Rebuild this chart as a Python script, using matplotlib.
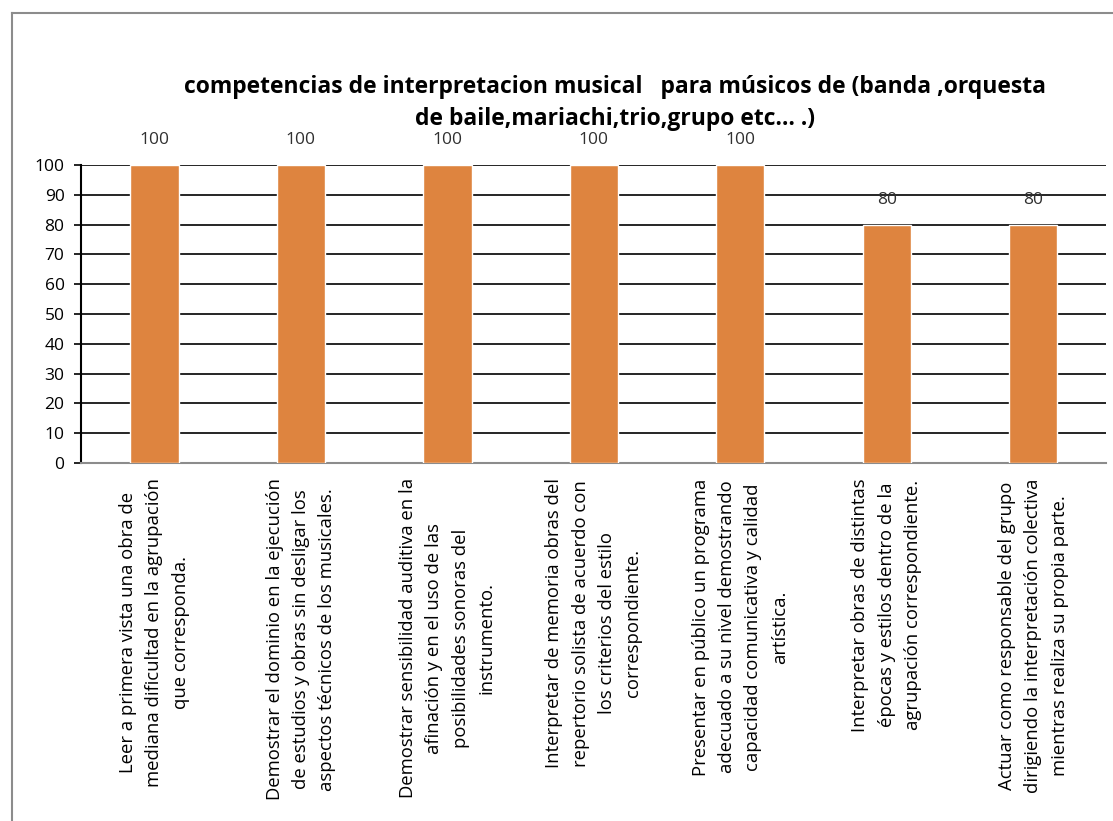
import matplotlib.pyplot as plt
from matplotlib.lines import Line2D

categorias = [
    "Leer a primera vista una obra de\nmediana dificultad en la agrupación\nque corresponda.",
    "Demostrar el dominio en la ejecución\nde estudios y obras sin desligar los\naspectos técnicos de los musicales.",
    "Demostrar sensibilidad auditiva en la\nafinación y en el uso de las\nposibilidades sonoras del\ninstrumento.",
    "Interpretar de memoria obras del\nrepertorio solista de acuerdo con\nlos criterios del estilo\ncorrespondiente.",
    "Presentar en público un programa\nadecuado a su nivel demostrando\ncapacidad comunicativa y calidad\nartística.",
    "Interpretar obras de distintas\népocas y estilos dentro de la\nagrupación correspondiente.",
    "Actuar como responsable del grupo\ndirigiendo la interpretación colectiva\nmientras realiza su propia parte.",
]
valores = [100, 100, 100, 100, 100, 80, 80]
yticks = [0, 10, 20, 30, 40, 50, 60, 70, 80, 90, 100]
titulo = ("competencias de interpretacion musical   para músicos de (banda ,orquesta\n"
          "de baile,mariachi,trio,grupo etc… .)")

plt.rcParams['font.family'] = ['Open Sans', 'DejaVu Sans']

fig = plt.figure(figsize=(11.13, 8.21), dpi=100)
ax = fig.add_axes([0.073, 0.436, 0.921, 0.363])

x = list(range(len(valores)))
ax.bar(x, valores, width=0.33, color='#DE843F', edgecolor='white', linewidth=1, zorder=3)

for xi, v in zip(x, valores):
    ax.text(xi, v + 8.3, str(v), ha='center', va='center', fontsize=12.5, color='#303030')

ax.set_xlim(-0.5, 6.5)
ax.set_ylim(0, 100)
ax.set_yticks(yticks)
ax.yaxis.grid(True, color='black', linewidth=1.2, zorder=0)
ax.set_axisbelow(True)
ax.tick_params(axis='y', labelsize=12.5, length=5, width=1.2, colors='black', pad=7)
ax.set_xticks(x)
ax.set_xticklabels(categorias, rotation=90, fontsize=13.3, linespacing=1.6,
                   multialignment='center', color='black')
ax.tick_params(axis='x', length=0, pad=11)
for s in ['top', 'right']:
    ax.spines[s].set_visible(False)
ax.spines['left'].set_color('black')
ax.spines['left'].set_linewidth(1.5)
ax.spines['bottom'].set_color('#8c8c8c')
ax.spines['bottom'].set_linewidth(1.5)

fig.text(615 / 1113, 1 - 103 / 821, titulo, ha='center', va='center', fontsize=16.5,
         fontweight='bold', linespacing=1.45, color='black')

# gray chart border (left and top)
fig.add_artist(Line2D([12 / 1113, 12 / 1113], [0, 1 - 13 / 821], color='#8c8c8c', linewidth=1.5))
fig.add_artist(Line2D([12 / 1113, 1], [1 - 13 / 821, 1 - 13 / 821], color='#8c8c8c', linewidth=1.5))

fig.savefig('out.png', dpi=100)
